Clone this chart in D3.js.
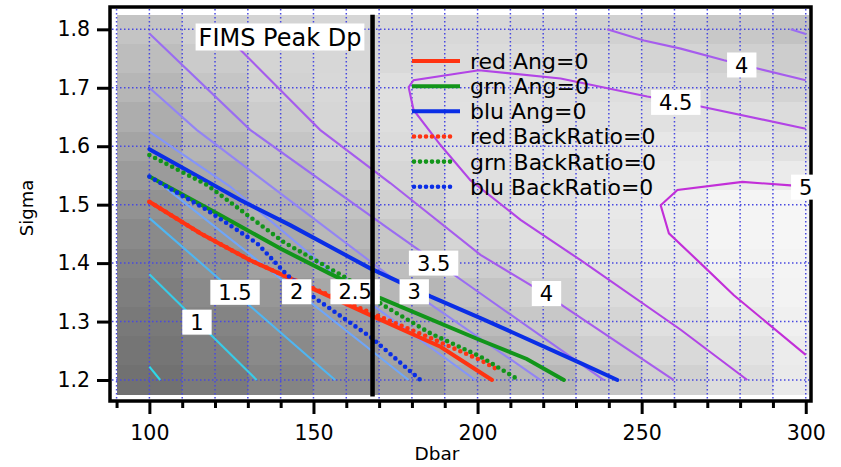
<!DOCTYPE html>
<html>
<head>
<meta charset="utf-8">
<script src="https://cdn.jsdelivr.net/npm/d3@7"></script>
<style>
body { margin: 0; background: #fff; }
text { font-family: "DejaVu Sans", "Lucida Grande", sans-serif; fill: #000; }
</style>
</head>
<body>
<div id="chart"></div>
<script>
// ---- data ----
var dbarGrid = [100, 120, 140, 160, 180, 200, 220, 240, 260, 280, 300];
var sigmaGrid = [1.2, 1.25, 1.3, 1.35, 1.4, 1.45, 1.5, 1.55, 1.6, 1.65, 1.7, 1.75, 1.8];
// peak Dp image, one row per sigma (bottom to top)
var peakDp = [
  [0.43, 0.78, 1.15, 1.58, 2.02, 2.52, 3.02, 3.54, 4.00, 4.45, 4.90],
  [0.59, 0.94, 1.36, 1.82, 2.32, 2.84, 3.35, 3.84, 4.28, 4.67, 5.00],
  [0.74, 1.13, 1.59, 2.10, 2.64, 3.17, 3.67, 4.14, 4.53, 4.87, 5.15],
  [0.90, 1.35, 1.86, 2.42, 2.99, 3.49, 4.00, 4.39, 4.73, 5.05, 5.25],
  [1.10, 1.62, 2.16, 2.75, 3.30, 3.85, 4.27, 4.60, 4.89, 5.20, 5.30],
  [1.36, 1.92, 2.46, 3.10, 3.64, 4.13, 4.51, 4.76, 5.02, 5.30, 5.35],
  [1.66, 2.22, 2.83, 3.43, 3.96, 4.36, 4.63, 4.84, 5.05, 5.30, 5.35],
  [2.00, 2.52, 3.21, 3.74, 4.18, 4.55, 4.70, 4.80, 4.90, 4.97, 4.95],
  [2.33, 2.97, 3.56, 4.02, 4.35, 4.60, 4.72, 4.78, 4.80, 4.72, 4.60],
  [2.67, 3.30, 3.81, 4.18, 4.47, 4.60, 4.62, 4.60, 4.58, 4.52, 4.40],
  [3.00, 3.56, 4.02, 4.26, 4.50, 4.55, 4.53, 4.49, 4.35, 4.20, 4.05],
  [3.27, 3.77, 4.10, 4.20, 4.30, 4.38, 4.35, 4.25, 4.10, 3.95, 3.85],
  [3.52, 3.98, 4.10, 4.18, 4.25, 4.25, 4.15, 4.00, 3.85, 3.65, 3.45]
];

// contour lines [dbar, sigma]
var c05 = [[100, 1.223], [103.3, 1.2]];
var c10 = [[100, 1.381], [132.7, 1.2]];
var c15 = [[100, 1.477], [156.6, 1.2]];
var c20 = [[100, 1.551], [179, 1.2]];
var c25 = [[100, 1.625], [124.6, 1.531], [162.7, 1.35], [199.3, 1.2]];
var c30 = [[100, 1.70], [114.4, 1.628], [173.4, 1.377], [219.2, 1.2]];
var c35 = [[100, 1.793], [130.7, 1.628], [173.4, 1.457], [200.9, 1.348], [238.5, 1.2]];
var c35b = [[295.4, 1.8], [300, 1.792]];
var c40 = [[121, 1.8], [127.7, 1.765], [152, 1.628], [173.4, 1.537], [200.9, 1.414], [220.1, 1.349], [259.8, 1.2]];
var c40b = [[239.5, 1.8], [250.7, 1.781], [261.9, 1.767], [275.1, 1.747], [285.3, 1.733], [300, 1.713]];
var c45 = [[300, 1.63], [268, 1.668], [251.7, 1.685], [225.3, 1.716], [200.4, 1.73], [180.5, 1.713], [179, 1.701],
           [180.5, 1.662], [188.7, 1.602], [197.8, 1.542], [213.1, 1.474], [231.4, 1.405], [261.9, 1.286], [282.2, 1.2]];
var c50 = [[300, 1.53], [295.4, 1.533], [280.7, 1.539], [260.9, 1.525], [255.8, 1.499], [258.3, 1.451],
           [269, 1.394], [278.1, 1.345], [300, 1.243]];

var contourLevels = [0.5, 1, 1.5, 2, 2.5, 3, 3.5, 3.5, 4, 4, 4.5, 5];
var contourPaths = [c05, c10, c15, c20, c25, c30, c35, c35b, c40, c40b, c45, c50];

var labelText = ["1", "1.5", "2", "2.5", "3", "3.5", "4", "4.5", "4", "5"];
var labelDbar = [114.5, 126.1, 144.9, 162.7, 180.7, 186.6, 221, 260.4, 280.5, 300];
var labelSigma = [1.299, 1.350, 1.351, 1.351, 1.351, 1.400, 1.348, 1.675, 1.739, 1.53];

// model traces
var redAng  = [[100, 1.505], [115.5, 1.451], [130.7, 1.405], [142.9, 1.374], [167.3, 1.311], [188.7, 1.257], [204.4, 1.2]];
var grnAng  = [[100, 1.548], [120, 1.487], [139.9, 1.425], [155, 1.382], [170.4, 1.340], [200.9, 1.268], [215, 1.236], [226.3, 1.2]];
var bluAng  = [[100, 1.595], [127.7, 1.508], [142.9, 1.465], [167.3, 1.391], [185.6, 1.343], [200.9, 1.306], [231.4, 1.229], [242.6, 1.2]];
var redBack = [[100, 1.505], [115.5, 1.451], [130.7, 1.405], [142.9, 1.374], [160, 1.333], [170, 1.309], [185.6, 1.272], [200.9, 1.234], [206, 1.218]];
var grnBack = [[100, 1.585], [117.5, 1.534], [140.9, 1.436], [160.2, 1.374], [170.4, 1.331], [185.6, 1.280], [200.9, 1.240], [212.6, 1.2]];
var bluBack = [[100, 1.548], [117.5, 1.491], [132.8, 1.434], [141.9, 1.38], [150, 1.342], [167.3, 1.274], [182.6, 1.2]];

var traceNames = ["red Ang=0", "grn Ang=0", "blu Ang=0", "red BackRatio=0", "grn BackRatio=0", "blu BackRatio=0"];
var traceData = [redAng, grnAng, bluAng, redBack, grnBack, bluBack];

var markerDbar = 168;
var xMajor = [100, 150, 200, 250, 300];
var yMajor = [1.2, 1.3, 1.4, 1.5, 1.6, 1.7, 1.8];

// ---- chart ----
var width = 841, height = 467;
var svg = d3.select('#chart').append('svg')
    .attr('width', width)
    .attr('height', height);

var x = d3.scaleLinear().domain([88, 301.6]).range([110, 811]);
var y = d3.scaleLinear().domain([1.1641, 1.8382]).range([401, 7]);
var gray = d3.scaleLinear().domain([0.4, 5.4]).range(['#707070', '#f7f7f7']);

var traceColor = ['#ff3312', '#12951a', '#0a2ee6', '#ff3312', '#12951a', '#0a2ee6'];
var levelColor = d3.scaleLinear()
    .domain([0.5, 1, 1.5, 2, 2.5, 3, 3.5, 4, 4.5, 5])
    .range(['#2ed8e8', '#38cbe8', '#4fb6f2', '#6ea6fa', '#8494fa', '#9384f4', '#9a6cf2', '#a65ced', '#b244e6', '#c22ed8']);

// image of peak Dp
var cells = [];
sigmaGrid.forEach(function(s, i) {
  dbarGrid.forEach(function(d, j) {
    cells.push({d: d, s: s, v: peakDp[i][j]});
  });
});
svg.append('g').selectAll('rect')
    .data(cells)
    .enter().append('rect')
    .attr('x', c => x(Math.max(c.d - 10, 90)))
    .attr('y', c => y(c.s + 0.025))
    .attr('width', c => x(Math.min(c.d + 10, 301)) - x(Math.max(c.d - 10, 90)))
    .attr('height', y(1.2) - y(1.25))
    .attr('shape-rendering', 'crispEdges')
    .style('fill', c => gray(c.v));

// dotted grid
var grid = svg.append('g')
    .style('stroke', '#4848e0')
    .style('stroke-width', 1.5)
    .style('stroke-dasharray', '1.5,2.5');
grid.selectAll('line.gx')
    .data(d3.range(90, 301, 10))
    .enter().append('line')
    .attr('x1', d => x(d)).attr('x2', d => x(d))
    .attr('y1', 9).attr('y2', 399);
grid.selectAll('line.gy')
    .data(yMajor)
    .enter().append('line')
    .attr('y1', d => y(d)).attr('y2', d => y(d))
    .attr('x1', 112).attr('x2', 809);

var line = d3.line().x(p => x(p[0])).y(p => y(p[1]));

// contours
svg.append('g').selectAll('path')
    .data(contourPaths)
    .enter().append('path')
    .attr('d', line)
    .style('fill', 'none')
    .style('stroke', (p, i) => levelColor(contourLevels[i]))
    .style('stroke-width', 2.1);

// traces
svg.append('g').selectAll('path')
    .data(traceData)
    .enter().append('path')
    .attr('d', line)
    .style('fill', 'none')
    .style('stroke', (p, i) => traceColor[i])
    .style('stroke-width', (p, i) => i < 3 ? 4 : 4.6)
    .style('stroke-linecap', 'round')
    .style('stroke-dasharray', (p, i) => i < 3 ? null : '0,6.4');

// frame
svg.append('rect')
    .attr('x', 110).attr('y', 7)
    .attr('width', 701).attr('height', 394)
    .style('fill', 'none')
    .style('stroke', '#000')
    .style('stroke-width', 3.5);

// contour labels
var labels = svg.append('g').selectAll('g')
    .data(labelText)
    .enter().append('g')
    .attr('transform', (t, i) => 'translate(' + x(labelDbar[i]) + ',' + y(labelSigma[i]) + ')');
labels.append('text')
    .attr('text-anchor', 'middle')
    .attr('dy', '0.36em')
    .style('font-size', '21px')
    .text(t => t);
labels.insert('rect', 'text')
    .each(function() {
      var bb = this.parentNode.querySelector('text').getBBox();
      d3.select(this)
        .attr('x', -bb.width / 2 - 8)
        .attr('y', -12.5)
        .attr('width', bb.width + 16)
        .attr('height', 25)
        .style('fill', '#fff');
    });

// marker line
svg.append('line')
    .attr('x1', x(markerDbar)).attr('x2', x(markerDbar))
    .attr('y1', y(1.825)).attr('y2', y(1.172))
    .style('stroke', '#000')
    .style('stroke-width', 4.5);

// title
var title = svg.append('g').attr('transform', 'translate(280,37)');
var tt = title.append('text')
    .attr('text-anchor', 'middle')
    .attr('dy', '0.36em')
    .style('font-size', '24px')
    .text('FIMS Peak Dp');
var tb = tt.node().getBBox();
title.insert('rect', 'text')
    .attr('x', -tb.width / 2 - 3).attr('y', -13.5)
    .attr('width', tb.width + 6).attr('height', 27)
    .style('fill', '#fff');

// legend
var legend = svg.append('g').selectAll('g')
    .data(traceNames)
    .enter().append('g')
    .attr('transform', (n, i) => 'translate(0,' + (61 + i * 25.15) + ')');
legend.append('line')
    .attr('x1', (n, i) => i < 3 ? 412 : 414)
    .attr('x2', (n, i) => i < 3 ? 460 : 456)
    .style('stroke', (n, i) => traceColor[i])
    .style('stroke-width', (n, i) => i < 3 ? 4 : 4.6)
    .style('stroke-linecap', (n, i) => i < 3 ? 'butt' : 'round')
    .style('stroke-dasharray', (n, i) => i < 3 ? null : '0,6');
legend.append('text')
    .attr('x', 470)
    .attr('dy', '0.36em')
    .style('font-size', '22px')
    .text(n => n);

// axes
var xAxis = svg.append('g')
    .attr('transform', 'translate(0,401)')
    .call(d3.axisBottom(x).tickValues(xMajor).tickSize(13).tickSizeOuter(0).tickPadding(11));
var xMinor = svg.append('g')
    .attr('transform', 'translate(0,401)')
    .call(d3.axisBottom(x).tickValues(d3.range(90, 301, 10).filter(d => d % 50 != 0)).tickSize(7).tickSizeOuter(0).tickFormat(''));
var yAxis = svg.append('g')
    .attr('transform', 'translate(110,0)')
    .call(d3.axisLeft(y).tickValues(yMajor).tickSize(13).tickSizeOuter(0).tickPadding(7).tickFormat(d3.format('.1f')));

[xAxis, xMinor, yAxis].forEach(function(a) {
  a.select('.domain').remove();
  a.selectAll('.tick line').style('stroke', '#000').style('stroke-width', 3);
  a.selectAll('.tick text').style('font-size', '20.5px').style('font-family', '"DejaVu Sans", sans-serif').attr('fill', '#000');
});

svg.append('text')
    .attr('x', 437).attr('y', 460)
    .attr('text-anchor', 'middle')
    .style('font-size', '18.5px')
    .text('Dbar');
svg.append('text')
    .attr('transform', 'translate(33,208) rotate(-90)')
    .attr('text-anchor', 'middle')
    .style('font-size', '18px')
    .text('Sigma');
</script>
</body>
</html>
